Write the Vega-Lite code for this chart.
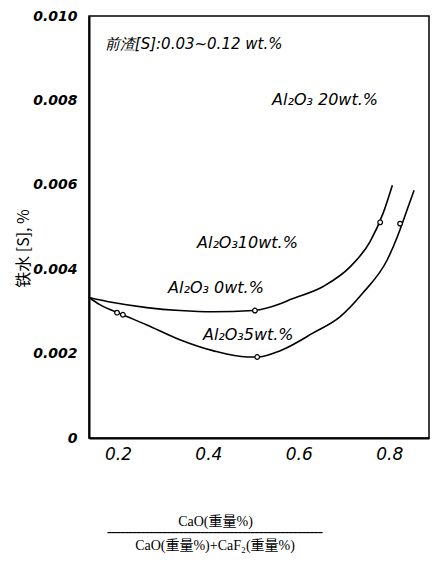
{
  "$schema": "https://vega.github.io/schema/vega-lite/v6.json",
  "width": 340,
  "height": 422,
  "autosize": "none",
  "padding": {"left": 89, "top": 16, "right": 3, "bottom": 125},
  "background": "white",
  "config": {
    "view": {"stroke": "black", "strokeWidth": 1.5},
    "font": "DejaVu Sans",
    "axisY": {"ticks": false, "grid": false},
    "axisX": {"ticks": false, "grid": false}
  },
  "title": {
    "text": "━━━━━━━━━━━━━━━━━━━━━━━━━━━━━━━━━━━━━━━━━━━━━━━━━━━",
    "orient": "bottom",
    "frame": "group",
    "anchor": "middle",
    "dx": -44,
    "offset": 1,
    "font": "DejaVu Sans",
    "fontSize": 7,
    "fontWeight": "normal",
    "color": "black",
    "subtitle": "CaO(重量%)+CaF₂(重量%)",
    "subtitleFont": "Liberation Serif, Noto Sans CJK SC",
    "subtitleFontSize": 14,
    "subtitleColor": "black",
    "subtitlePadding": 3
  },
  "datasets": {
    "curves": [
      {"series": "upper", "x": 0.136, "y": 0.00333},
      {"series": "upper", "x": 0.189, "y": 0.00321},
      {"series": "upper", "x": 0.264, "y": 0.00309},
      {"series": "upper", "x": 0.337, "y": 0.00302},
      {"series": "upper", "x": 0.410, "y": 0.00299},
      {"series": "upper", "x": 0.499, "y": 0.00302},
      {"series": "upper", "x": 0.559, "y": 0.00318},
      {"series": "upper", "x": 0.581, "y": 0.00328},
      {"series": "upper", "x": 0.654, "y": 0.00359},
      {"series": "upper", "x": 0.714, "y": 0.00406},
      {"series": "upper", "x": 0.758, "y": 0.00466},
      {"series": "upper", "x": 0.787, "y": 0.00534},
      {"series": "upper", "x": 0.807, "y": 0.00599},
      {"series": "lower", "x": 0.136, "y": 0.00333},
      {"series": "lower", "x": 0.160, "y": 0.00316},
      {"series": "lower", "x": 0.204, "y": 0.00295},
      {"series": "lower", "x": 0.264, "y": 0.00268},
      {"series": "lower", "x": 0.337, "y": 0.00233},
      {"series": "lower", "x": 0.410, "y": 0.00207},
      {"series": "lower", "x": 0.486, "y": 0.00192},
      {"series": "lower", "x": 0.508, "y": 0.00192},
      {"series": "lower", "x": 0.559, "y": 0.00207},
      {"series": "lower", "x": 0.632, "y": 0.00249},
      {"series": "lower", "x": 0.691, "y": 0.00287},
      {"series": "lower", "x": 0.742, "y": 0.00344},
      {"series": "lower", "x": 0.796, "y": 0.00423},
      {"series": "lower", "x": 0.818, "y": 0.00477},
      {"series": "lower", "x": 0.840, "y": 0.00542},
      {"series": "lower", "x": 0.855, "y": 0.00587}
    ],
    "points": [
      {"x": 0.503, "y": 0.00302},
      {"x": 0.780, "y": 0.00511},
      {"x": 0.198, "y": 0.00297},
      {"x": 0.211, "y": 0.00292},
      {"x": 0.508, "y": 0.00192},
      {"x": 0.824, "y": 0.00508}
    ],
    "yticks": [
      {"y": 0.001}, {"y": 0.002}, {"y": 0.003}, {"y": 0.004}, {"y": 0.005},
      {"y": 0.006}, {"y": 0.007}, {"y": 0.008}, {"y": 0.009}
    ],
    "labels": [
      {"x": 0.171, "y": 0.00933, "text": "前渣[S]:0.03~0.12 wt.%", "size": 15},
      {"x": 0.541, "y": 0.00800, "text": "Al₂O₃  20wt.%", "size": 16},
      {"x": 0.375, "y": 0.00463, "text": "Al₂O₃10wt.%", "size": 16},
      {"x": 0.311, "y": 0.00356, "text": "Al₂O₃  0wt.%", "size": 16},
      {"x": 0.388, "y": 0.00245, "text": "Al₂O₃5wt.%", "size": 16}
    ]
  },
  "encoding": {
    "x": {
      "field": "x", "type": "quantitative",
      "scale": {"domain": [0.136, 0.888], "nice": false, "zero": false},
      "axis": {
        "values": [0.2, 0.4, 0.6, 0.8],
        "labelExpr": "format(datum.value, '.1f')",
        "domainColor": "black",
        "domainWidth": 2,
        "labelColor": "black",
        "labelFont": "DejaVu Sans",
        "labelFontStyle": "italic",
        "labelFontSize": 17,
        "labelPadding": 8,
        "title": "CaO(重量%)",
        "titleFont": "Liberation Serif, Noto Sans CJK SC",
        "titleFontWeight": "normal",
        "titleFontSize": 14,
        "titleColor": "black",
        "titleX": 126,
        "titleY": 76,
        "titleAnchor": "middle",
        "titleBaseline": "top"
      }
    },
    "y": {
      "field": "y", "type": "quantitative",
      "scale": {"domain": [0, 0.010], "nice": false},
      "axis": {
        "values": [0, 0.002, 0.004, 0.006, 0.008, 0.010],
        "labelExpr": "datum.value < 0.0001 ? '0' : format(datum.value, '.3f')",
        "domainColor": "black",
        "domainWidth": 2,
        "labelColor": "black",
        "labelFont": "DejaVu Sans",
        "labelFontStyle": "italic",
        "labelFontWeight": "bold",
        "labelFontSize": 14,
        "labelPadding": 12,
        "title": "铁水 [S], %",
        "titleFont": "Noto Sans CJK SC",
        "titleFontWeight": "normal",
        "titleFontSize": 16,
        "titleColor": "black",
        "titleX": -58,
        "titleY": 232,
        "titleAngle": -90,
        "titleAnchor": "middle"
      }
    }
  },
  "layer": [
    {
      "data": {"name": "yticks"},
      "mark": {"type": "rule", "color": "black", "strokeWidth": 1.6},
      "encoding": {
        "x": {"datum": 0.136, "type": "quantitative"},
        "x2": {"datum": 0.158}
      }
    },
    {
      "data": {"name": "curves"},
      "mark": {"type": "line", "interpolate": "monotone", "color": "black", "strokeWidth": 1.6},
      "encoding": {"detail": {"field": "series"}}
    },
    {
      "data": {"name": "points"},
      "mark": {"type": "point", "shape": "circle", "filled": true, "fill": "white", "stroke": "black", "strokeWidth": 1.2, "size": 22, "opacity": 1}
    },
    {
      "data": {"name": "labels"},
      "mark": {"type": "text", "align": "left", "baseline": "middle", "font": "DejaVu Sans", "fontStyle": "italic", "color": "black"},
      "encoding": {
        "text": {"field": "text"},
        "size": {"field": "size", "type": "quantitative", "scale": null}
      }
    }
  ]
}
